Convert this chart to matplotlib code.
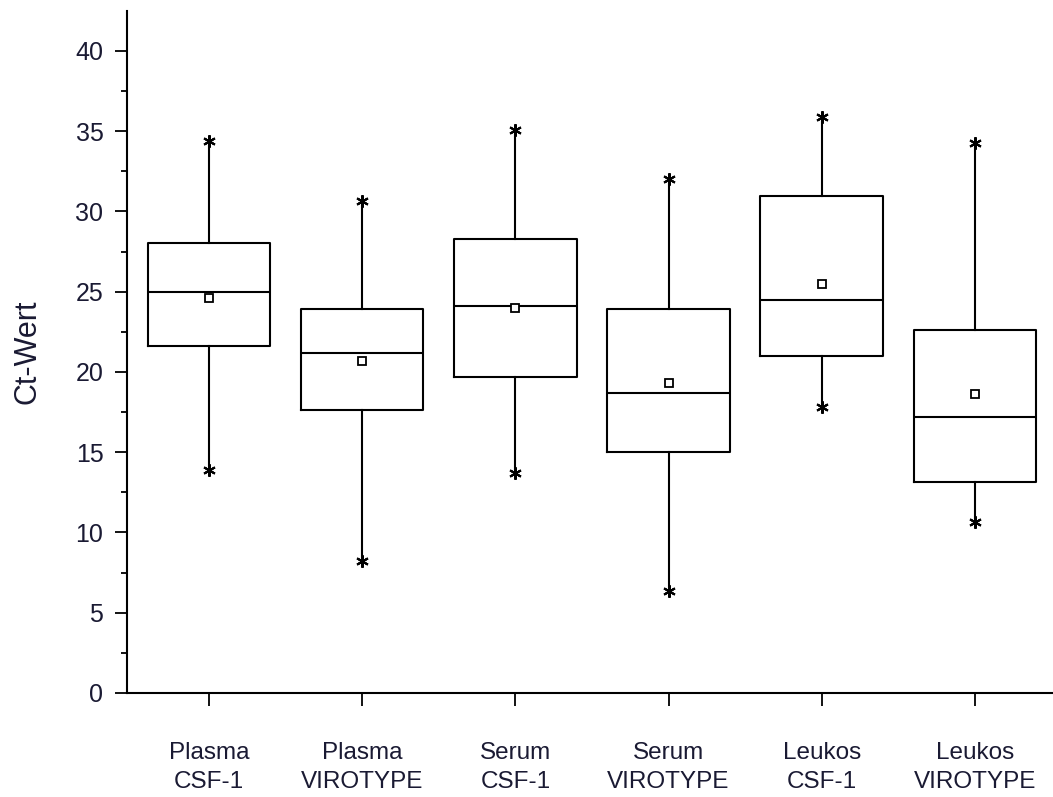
import matplotlib
matplotlib.use("Agg")
import matplotlib.pyplot as plt
import numpy as np

categories = ["Plasma\nCSF-1", "Plasma\nVIROTYPE", "Serum\nCSF-1", "Serum\nVIROTYPE", "Leukos\nCSF-1", "Leukos\nVIROTYPE"]
whisker_low = [13.9, 8.2, 13.7, 6.35, 17.8, 10.65]
q1 = [21.6, 17.6, 19.7, 15.0, 21.0, 13.15]
median = [25.0, 21.2, 24.1, 18.7, 24.5, 17.2]
mean = [24.6, 20.7, 24.0, 19.3, 25.5, 18.6]
q3 = [28.0, 23.95, 28.25, 23.95, 30.95, 22.6]
whisker_high = [34.4, 30.65, 35.05, 32.0, 35.85, 34.25]
y_ticks = [0, 5, 10, 15, 20, 25, 30, 35, 40]

plt.rcParams['font.family'] = ['Liberation Sans', 'DejaVu Sans']

fig = plt.figure(figsize=(10.53, 7.97), dpi=100)
ax = fig.add_axes([127/1053, (797-693)/797, (1053-127)/1053, (693-10.7)/797])

stats = []
for i in range(len(categories)):
    stats.append(dict(med=median[i], q1=q1[i], q3=q3[i], whislo=whisker_low[i],
                      whishi=whisker_high[i], mean=mean[i], fliers=[]))

pos = np.arange(1, len(categories) + 1)
ax.bxp(stats, positions=pos, widths=0.8, showmeans=True, showcaps=False,
       showfliers=False, patch_artist=False,
       boxprops=dict(color='black', linewidth=1.5),
       whiskerprops=dict(color='black', linewidth=1.5),
       medianprops=dict(color='black', linewidth=1.5),
       meanprops=dict(marker='s', markerfacecolor='white', markeredgecolor='black',
                      markersize=6, markeredgewidth=1.3))

ax.plot(pos, whisker_high, linestyle='none', marker=(6, 2, 0), markersize=9,
        color='black', markeredgewidth=1.5)
ax.plot(pos, whisker_low, linestyle='none', marker=(6, 2, 0), markersize=9,
        color='black', markeredgewidth=1.5)

ax.set_xlim(0.465, 0.465 + 926/153.2)
ax.set_ylim(0, 42.5)
ax.set_yticks(y_ticks)
ax.set_yticks(np.arange(2.5, 42.5, 5), minor=True)
ax.set_xticks(pos)
ax.set_xticklabels(categories, linespacing=1.45)
for s in ['top', 'right']:
    ax.spines[s].set_visible(False)
for s in ['left', 'bottom']:
    ax.spines[s].set_linewidth(1.5)
ax.tick_params(axis='y', which='major', direction='out', length=9, width=1.3,
               labelsize=18, pad=8, colors='black', labelcolor='#1a1a33')
ax.tick_params(axis='y', which='minor', direction='out', length=4, width=1.3)
ax.tick_params(axis='x', which='major', direction='out', length=9, width=1.3,
               labelsize=17.5, pad=26, labelcolor='#1a1a33')
ax.set_ylabel('Ct-Wert', fontsize=22, color='#1a1a33', labelpad=24)

fig.savefig('out.png', dpi=100)
